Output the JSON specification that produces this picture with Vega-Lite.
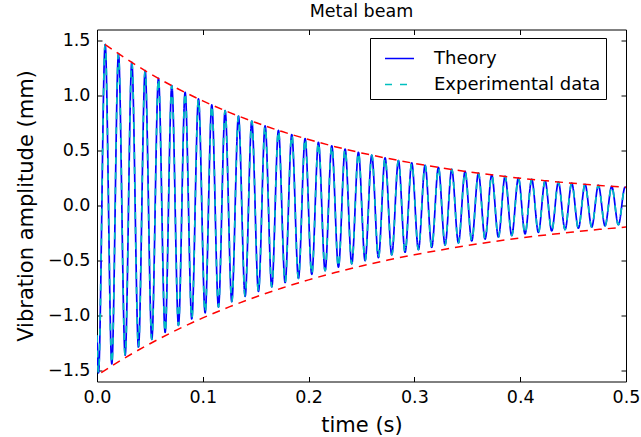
{
  "$schema": "https://vega.github.io/schema/vega-lite/v6.json",
  "width": 529,
  "height": 352,
  "autosize": {"type": "none"},
  "padding": {"left": 97, "top": 29.5, "right": 15, "bottom": 55.5},
  "title": {"text": "Metal beam", "fontSize": 17.5, "font": "DejaVu Sans", "fontWeight": "normal", "color": "black", "offset": 9, "anchor": "middle"},
  "config": {
    "view": {"stroke": "black", "strokeWidth": 1},
    "font": "DejaVu Sans",
    "axis": {
      "grid": false,
      "domain": false,
      "labelFlush": false,
      "tickColor": "black",
      "tickSize": -5,
      "tickWidth": 1,
      "labelColor": "black",
      "labelFont": "DejaVu Sans",
      "labelFontSize": 17.5,
      "titleFont": "DejaVu Sans",
      "titleFontSize": 21,
      "titleFontWeight": "normal",
      "titleColor": "black"
    }
  },
  "datasets": {
    "osc": [
      {"t":0,"y":-1.18},
      {"t":0.0014,"y":-1.521},{"t":0.0077,"y":1.464},
      {"t":0.014,"y":-1.439},{"t":0.0203,"y":1.38},
      {"t":0.0266,"y":-1.361},{"t":0.0329,"y":1.301},
      {"t":0.0392,"y":-1.288},{"t":0.0455,"y":1.226},
      {"t":0.0518,"y":-1.218},{"t":0.0581,"y":1.156},
      {"t":0.0644,"y":-1.153},{"t":0.0707,"y":1.09},
      {"t":0.077,"y":-1.09},{"t":0.0833,"y":1.028},
      {"t":0.0896,"y":-1.032},{"t":0.0959,"y":0.969},
      {"t":0.1022,"y":-0.976},{"t":0.1085,"y":0.914},
      {"t":0.1148,"y":-0.923},{"t":0.1211,"y":0.862},
      {"t":0.1274,"y":-0.874},{"t":0.1337,"y":0.813},
      {"t":0.14,"y":-0.826},{"t":0.1463,"y":0.767},
      {"t":0.1526,"y":-0.782},{"t":0.1589,"y":0.724},
      {"t":0.1652,"y":-0.74},{"t":0.1715,"y":0.683},
      {"t":0.1778,"y":-0.7},{"t":0.1841,"y":0.645},
      {"t":0.1904,"y":-0.662},{"t":0.1967,"y":0.609},
      {"t":0.203,"y":-0.626},{"t":0.2093,"y":0.575},
      {"t":0.2156,"y":-0.593},{"t":0.2219,"y":0.543},
      {"t":0.2282,"y":-0.561},{"t":0.2345,"y":0.513},
      {"t":0.2408,"y":-0.53},{"t":0.2471,"y":0.484},
      {"t":0.2534,"y":-0.502},{"t":0.2597,"y":0.458},
      {"t":0.266,"y":-0.475},{"t":0.2723,"y":0.433},
      {"t":0.2786,"y":-0.449},{"t":0.2849,"y":0.409},
      {"t":0.2912,"y":-0.425},{"t":0.2975,"y":0.387},
      {"t":0.3038,"y":-0.402},{"t":0.3101,"y":0.366},
      {"t":0.3164,"y":-0.38},{"t":0.3227,"y":0.346},
      {"t":0.329,"y":-0.36},{"t":0.3353,"y":0.328},
      {"t":0.3416,"y":-0.34},{"t":0.3479,"y":0.31},
      {"t":0.3542,"y":-0.322},{"t":0.3605,"y":0.294},
      {"t":0.3668,"y":-0.305},{"t":0.3731,"y":0.278},
      {"t":0.3794,"y":-0.288},{"t":0.3857,"y":0.264},
      {"t":0.392,"y":-0.273},{"t":0.3983,"y":0.25},
      {"t":0.4046,"y":-0.258},{"t":0.4109,"y":0.237},
      {"t":0.4172,"y":-0.244},{"t":0.4235,"y":0.225},
      {"t":0.4298,"y":-0.231},{"t":0.4361,"y":0.213},
      {"t":0.4424,"y":-0.219},{"t":0.4487,"y":0.203},
      {"t":0.455,"y":-0.207},{"t":0.4613,"y":0.193},
      {"t":0.4676,"y":-0.196},{"t":0.4739,"y":0.183},
      {"t":0.4802,"y":-0.185},{"t":0.4865,"y":0.174},
      {"t":0.4928,"y":-0.175},{"t":0.4991,"y":0.166},
      {"t":0.5,"y":0.163}
    ],
    "env": [
      {"t":0.0077,"env":1.464,"side":"upper"},
      {"t":0.025,"env":1.35,"side":"upper"},
      {"t":0.05,"env":1.2,"side":"upper"},
      {"t":0.075,"env":1.068,"side":"upper"},
      {"t":0.1,"env":0.951,"side":"upper"},
      {"t":0.125,"env":0.847,"side":"upper"},
      {"t":0.15,"env":0.754,"side":"upper"},
      {"t":0.175,"env":0.672,"side":"upper"},
      {"t":0.2,"env":0.6,"side":"upper"},
      {"t":0.225,"env":0.535,"side":"upper"},
      {"t":0.25,"env":0.478,"side":"upper"},
      {"t":0.275,"env":0.428,"side":"upper"},
      {"t":0.3,"env":0.383,"side":"upper"},
      {"t":0.325,"env":0.343,"side":"upper"},
      {"t":0.35,"env":0.307,"side":"upper"},
      {"t":0.375,"env":0.276,"side":"upper"},
      {"t":0.4,"env":0.248,"side":"upper"},
      {"t":0.425,"env":0.224,"side":"upper"},
      {"t":0.45,"env":0.202,"side":"upper"},
      {"t":0.475,"env":0.182,"side":"upper"},
      {"t":0.5,"env":0.165,"side":"upper"},
      {"t":0.004,"env":-1.52,"side":"lower"},
      {"t":0.025,"env":-1.393,"side":"lower"},
      {"t":0.05,"env":-1.257,"side":"lower"},
      {"t":0.075,"env":-1.133,"side":"lower"},
      {"t":0.1,"env":-1.022,"side":"lower"},
      {"t":0.125,"env":-0.922,"side":"lower"},
      {"t":0.15,"env":-0.832,"side":"lower"},
      {"t":0.175,"env":-0.75,"side":"lower"},
      {"t":0.2,"env":-0.676,"side":"lower"},
      {"t":0.225,"env":-0.61,"side":"lower"},
      {"t":0.25,"env":-0.55,"side":"lower"},
      {"t":0.275,"env":-0.496,"side":"lower"},
      {"t":0.3,"env":-0.448,"side":"lower"},
      {"t":0.325,"env":-0.404,"side":"lower"},
      {"t":0.35,"env":-0.364,"side":"lower"},
      {"t":0.375,"env":-0.328,"side":"lower"},
      {"t":0.4,"env":-0.296,"side":"lower"},
      {"t":0.425,"env":-0.267,"side":"lower"},
      {"t":0.45,"env":-0.241,"side":"lower"},
      {"t":0.475,"env":-0.217,"side":"lower"},
      {"t":0.5,"env":-0.196,"side":"lower"}
    ]
  },
  "layer": [
    {
      "data": {"name": "osc"},
      "mark": {"type": "line", "interpolate": "monotone", "strokeWidth": 1.7, "clip": true},
      "encoding": {
        "x": {"field": "t", "type": "quantitative", "scale": {"domain": [0, 0.5], "nice": false, "zero": false},
              "axis": {"orient": "bottom", "values": [0, 0.1, 0.2, 0.3, 0.4, 0.5], "format": ".1f", "title": "time (s)", "labelPadding": 12, "titlePadding": 8}},
        "y": {"field": "y", "type": "quantitative", "scale": {"domain": [-1.6, 1.6], "nice": false, "zero": false},
              "axis": {"orient": "left", "values": [-1.5, -1, -0.5, 0, 0.5, 1, 1.5], "format": ".1f", "title": "Vibration amplitude (mm)", "labelPadding": 12, "titlePadding": 11}},
        "color": {"datum": "Theory", "type": "nominal",
                  "scale": {"domain": ["Theory", "Experimental data"], "range": ["#0000ff", "#00bfbf"]},
                  "legend": {"orient": "none", "legendX": 273, "legendY": 8.5, "title": null, "symbolType": "stroke", "symbolSize": 841, "symbolStrokeWidth": 1.5, "symbolOffset": 9, "labelFontSize": 18, "labelFont": "DejaVu Sans", "labelColor": "black", "labelLimit": 400, "strokeColor": "black", "fillColor": "white", "padding": 5, "rowPadding": 1, "labelOffset": 19, "cornerRadius": 0}},
        "strokeDash": {"datum": "Theory", "type": "nominal",
                  "scale": {"domain": ["Theory", "Experimental data"], "range": [[1, 0], [7, 8]]},
                  "legend": {"orient": "none", "legendX": 273, "legendY": 8.5, "title": null, "symbolType": "stroke", "symbolSize": 841, "symbolStrokeWidth": 1.5, "symbolOffset": 9, "labelFontSize": 18, "labelFont": "DejaVu Sans", "labelColor": "black", "labelLimit": 400, "strokeColor": "black", "fillColor": "white", "padding": 5, "rowPadding": 1, "labelOffset": 19, "cornerRadius": 0}}
      }
    },
    {
      "data": {"name": "osc"},
      "mark": {"type": "line", "interpolate": "monotone", "strokeWidth": 1.7, "clip": true},
      "encoding": {
        "x": {"field": "t", "type": "quantitative", "axis": null},
        "y": {"field": "y", "type": "quantitative", "axis": null},
        "color": {"datum": "Experimental data", "type": "nominal"},
        "strokeDash": {"datum": "Experimental data", "type": "nominal"}
      }
    },
    {
      "data": {"name": "env"},
      "mark": {"type": "line", "interpolate": "monotone", "color": "#ff0000", "strokeDash": [8, 6], "strokeWidth": 1.5, "clip": true},
      "encoding": {
        "x": {"field": "t", "type": "quantitative", "axis": {"orient": "top", "values": [0, 0.1, 0.2, 0.3, 0.4, 0.5], "labels": false, "title": null}},
        "y": {"field": "env", "type": "quantitative", "axis": {"orient": "right", "values": [-1.5, -1, -0.5, 0, 0.5, 1, 1.5], "labels": false, "title": null}},
        "detail": {"field": "side", "type": "nominal"}
      }
    }
  ],
  "resolve": {"axis": {"x": "independent", "y": "independent"}}
}
